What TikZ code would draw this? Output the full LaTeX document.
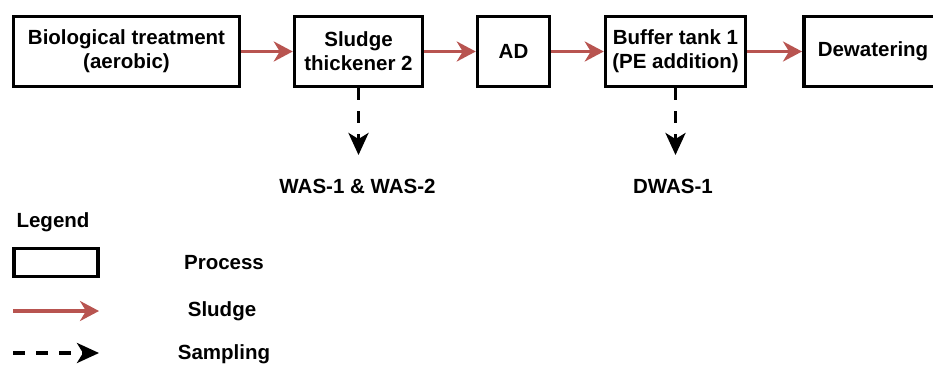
\documentclass[tikz,border=0pt]{standalone}
\usepackage{fontspec}
\setmainfont{Liberation Sans}
\usetikzlibrary{arrows.meta}
\definecolor{sludgered}{HTML}{B85450}
\begin{document}
\begin{tikzpicture}[
x=1pt, y=-1pt,
font=\bfseries\fontsize{20.5}{24}\selectfont,
process/.style={draw, line width=3.5pt, minimum height=70pt, align=center, inner sep=0pt},
sludge/.style={draw=sludgered, line width=3.2pt, -{Stealth[length=19pt, width=20pt, inset=6pt]}},
sampling/.style={draw=black, line width=3.5pt, dash pattern=on 12pt off 11pt, -{Stealth[length=22pt, width=20pt, inset=6pt]}}]
\useasboundingbox (0,0) rectangle (933,372);
\node[process, minimum width=226pt] (bio) at (126.5,51.5) {Biological treatment\\(aerobic)};
\node[process, minimum width=128pt] (thick) at (358.5,51.5) {Sludge\\thickener 2};
\node[process, minimum width=72pt] (ad) at (513.5,51.5) {AD};
\node[process, minimum width=140pt] (buffer) at (675.5,51.5) {Buffer tank 1\\(PE addition)};
\node[process, anchor=west, text width=145pt, inner xsep=14pt, align=left] (dewat) at (802,51.5) {Dewatering};
\draw[sludge] (bio) -- (thick);
\draw[sludge] (thick) -- (ad);
\draw[sludge] (ad) -- (buffer);
\draw[sludge] (buffer) -- (dewat);
\coordinate (thicksample) at (358.5,155);
\coordinate (buffersample) at (675.5,155);
\draw[sampling] (thick.south) -- (thicksample);
\draw[sampling] (buffer.south) -- (buffersample);
\node (was) at (357.5,186) {WAS-1 \& WAS-2};
\node (dwas) at (673,186) {DWAS-1};
%legend
\node (legend) at (53,222) {Legend};
\node[process, minimum width=84pt, minimum height=28pt] (legbox) at (56,262.5) {};
\node (legprocess) at (224,263) {Process};
\coordinate (sludgefrom) at (13,311);
\coordinate (sludgeto) at (99,311);
\draw[sludge] (sludgefrom) -- (sludgeto);
\node (legsludge) at (222,311) {Sludge};
\coordinate (samplefrom) at (13,353);
\coordinate (sampleto) at (99,353);
\draw[sampling] (samplefrom) -- (sampleto);
\node (legsampling) at (224,354) {Sampling};
\end{tikzpicture}
\end{document}
